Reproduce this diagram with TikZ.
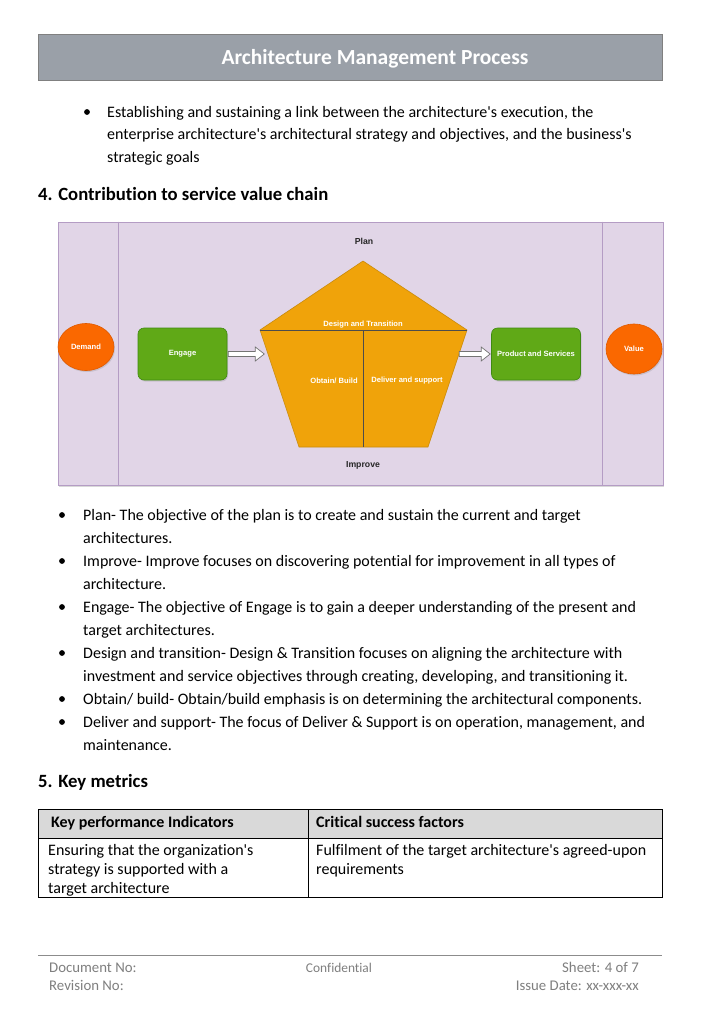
\documentclass[tikz,border=0pt]{standalone}
\usepackage{fontspec}
\newfontfamily\bodyfont{Carlito}[Ligatures=NoCommon]
\newfontfamily\diagfont{Liberation Sans}
\usetikzlibrary{arrows.meta,shadows,calc,shapes.geometric}
\definecolor{hdrgray}{HTML}{9AA0A8}
\definecolor{hdrborder}{HTML}{808080}
\definecolor{lilac}{HTML}{E1D5E7}
\definecolor{lilacborder}{HTML}{B49CC4}
\definecolor{pentfill}{HTML}{F0A30A}
\definecolor{pentborder}{HTML}{C98A0A}
\definecolor{ovalfill}{HTML}{FA6800}
\definecolor{ovalborder}{HTML}{E05A00}
\definecolor{greenfill}{HTML}{60A917}
\definecolor{greenborder}{HTML}{3F8A10}
\definecolor{tblgray}{HTML}{D9D9D9}
\definecolor{footgray}{HTML}{7F7F7F}
\begin{document}
\begin{tikzpicture}[x=1pt,y=-1pt,
  body/.style={anchor=base west,inner sep=0pt,font=\bodyfont\fontsize{16}{18}\selectfont},
  bodyb/.style={anchor=base west,inner sep=0pt,font=\bodyfont\fontsize{16}{18}\selectfont\bfseries},
  bodyr/.style={anchor=base east,inner sep=0pt,font=\bodyfont\fontsize{14.8}{17}\selectfont,text=footgray},
  foot/.style={anchor=base west,inner sep=0pt,font=\bodyfont\fontsize{14.8}{17}\selectfont,text=footgray},
  heading/.style={anchor=base west,inner sep=0pt,font=\bodyfont\fontsize{18.7}{21}\selectfont\bfseries},
  bul/.style={circle,fill=black,inner sep=0pt,minimum size=5.8pt},
  dlabel/.style={inner sep=0pt,font=\diagfont\fontsize{7.6}{9}\selectfont\bfseries,text=white},
  dblack/.style={inner sep=0pt,font=\diagfont\fontsize{8.7}{10}\selectfont\bfseries,text=black!85},
  oval/.style={ellipse,draw=ovalborder,fill=ovalfill,line width=0.6pt,minimum width=56pt,minimum height=47pt,inner sep=0pt,
    drop shadow={opacity=0.25,shadow xshift=1pt,shadow yshift=-1.5pt}},
  greenbox/.style={rectangle,rounded corners=6pt,draw=greenborder,fill=greenfill,line width=0.6pt,minimum width=89pt,minimum height=52pt,inner sep=0pt,
    drop shadow={opacity=0.25,shadow xshift=1pt,shadow yshift=-1.5pt}},
  hollow/.style={draw=black!55,fill=white,line width=0.7pt,line join=miter},
  tbl/.style={draw=black,line width=0.7pt},
]
\useasboundingbox (0,0) rectangle (706,1017);
\fill[white] (0,0) rectangle (706,1017);

% header
\node[draw=hdrborder,fill=hdrgray,line width=0.7pt,minimum width=624pt,minimum height=46pt,inner sep=0pt] (hdr) at (350,57) {};
\node[inner sep=0pt,font=\bodyfont\fontsize{21.5}{24}\selectfont\bfseries,text=white] (title) at (375,58.5) {Architecture Management Process};

% first bullet
\node[bul] (b0) at (87,112) {};
\node[body] (t0a) at (107,117) {Establishing and sustaining a link between the architecture's execution, the};
\node[body] (t0b) at (107,139.5) {enterprise architecture's architectural strategy and objectives, and the business's};
\node[body] (t0c) at (107,162) {strategic goals};

% heading 4
\node[heading] (h4) at (38,200) {4. Contribution to service value chain};

% diagram
\node[draw=lilacborder,fill=lilac,line width=0.7pt,minimum width=605pt,minimum height=263pt,inner sep=0pt,
  drop shadow={opacity=0.3,shadow xshift=1pt,shadow yshift=-2pt}] (frame) at (360.5,353.5) {};
\draw[lilacborder,line width=0.7pt] (frame.north west -| 118,0) coordinate (v1t) -- (frame.south west -| 118,0) coordinate (v1b);
\draw[lilacborder,line width=0.7pt] (frame.north west -| 602,0) coordinate (v2t) -- (frame.south west -| 602,0) coordinate (v2b);

\node[dblack] (plan) at (364,241) {Plan};
\node[dblack] (improve) at (363,465) {Improve};

\coordinate (ptop) at (363,261);
\coordinate (pl) at (260,330);
\coordinate (pr) at (467,330);
\coordinate (pbl) at (299,447);
\coordinate (pbr) at (428,447);
\coordinate (pmid) at (363,330);
\coordinate (pmidb) at (363,447);
\filldraw[fill=pentfill,draw=pentborder,line width=0.6pt,line join=round] (ptop) -- (pr) -- (pbr) -- (pbl) -- (pl) -- cycle;
\draw[black!70,line width=0.8pt] (pl) -- (pr);
\draw[black!70,line width=0.8pt] (pmid) -- (pmidb);
\node[dlabel] (dt) at (363,325) {Design and Transition};
\node[dlabel] (ob) at (334,381) {Obtain/ Build};
\node[dlabel] (ds) at (407,381) {Deliver and support};

\node[oval] (demand) at (86,347) {};
\node[dlabel] at (demand) {Demand};
\node[oval,minimum height=50pt] (value) at (634,349) {};
\node[dlabel] at (value) {Value};

\node[greenbox] (engage) at (182.5,354) {};
\node[dlabel] at (engage) {Engage};
\node[greenbox] (prod) at (536,354) {};
\node[dlabel] at (prod) {Product and Services};

% hollow arrows
\draw[hollow] (engage.east) ++(1,-2.5) -- ++(27,0) -- ++(0,-4.5) -- ++(9,7) -- ++(-9,7) -- ++(0,-4.5) -- ++(-27,0) -- cycle;
\draw[hollow] (prod.west) ++(-32,-2.5) -- ++(22,0) -- ++(0,-4.5) -- ++(9,7) -- ++(-9,7) -- ++(0,-4.5) -- ++(-22,0) -- cycle;

% second bullet list
\foreach \y/\name in {515/b1,561/b2,607/b3,653/b4,699/b5,722/b6}{
  \node[bul] (\name) at (62,\y) {};
}
\node[body] (l1) at (83,520) {Plan- The objective of the plan is to create and sustain the current and target};
\node[body] (l2) at (83,543) {architectures.};
\node[body] (l3) at (83,566) {Improve- Improve focuses on discovering potential for improvement in all types of};
\node[body] (l4) at (83,589) {architecture.};
\node[body] (l5) at (83,612) {Engage- The objective of Engage is to gain a deeper understanding of the present and};
\node[body] (l6) at (83,635) {target architectures.};
\node[body] (l7) at (83,658) {Design and transition- Design \& Transition focuses on aligning the architecture with};
\node[body] (l8) at (83,681) {investment and service objectives through creating, developing, and transitioning it.};
\node[body] (l9) at (83,704) {Obtain/ build- Obtain/build emphasis is on determining the architectural components.};
\node[body] (l10) at (83,727) {Deliver and support- The focus of Deliver \& Support is on operation, management, and};
\node[body] (l11) at (83,750) {maintenance.};

% heading 5
\node[heading] (h5) at (38,787) {5. Key metrics};

% table
\fill[tblgray] (38,809) rectangle (662,838);
\draw[tbl] (38,809) rectangle (662,897);
\draw[tbl] (38,838) -- (662,838);
\draw[tbl] (308,809) -- (308,897);
\node[bodyb] (th1) at (51,827) {Key performance Indicators};
\node[bodyb] (th2) at (316,827) {Critical success factors};
\node[body] (c1a) at (48,855) {Ensuring that the organization's};
\node[body] (c1b) at (48,874) {strategy is supported with a};
\node[body] (c1c) at (48,893) {target architecture};
\node[body] (c2a) at (316,855) {Fulfilment of the target architecture's agreed-upon};
\node[body] (c2b) at (316,874) {requirements};

% footer
\draw[black!45,line width=0.8pt] (38,955) coordinate (fl) -- (662,955) coordinate (fr);
\node[foot] (doc) at (49,972) {Document No:};
\node[foot] (rev) at (49,990) {Revision No:};
\node[foot,font=\bodyfont\fontsize{13.4}{15}\selectfont,anchor=base] (conf) at (339,972) {Confidential};
\node[bodyr] (sheet) at (639,972) {Sheet: 4 of 7};
\node[bodyr] (issue) at (639,990) {Issue Date: xx-xxx-xx};
\end{tikzpicture}
\end{document}
